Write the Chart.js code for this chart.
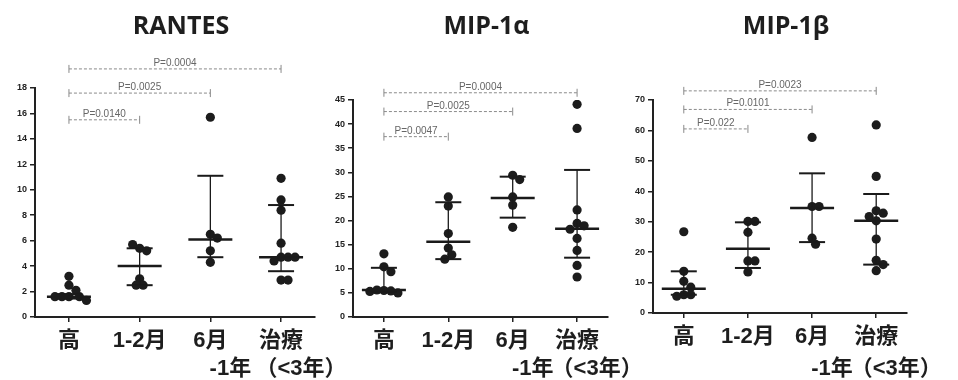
<!DOCTYPE html>
<html>
<head>
<meta charset="utf-8">
<script src="https://cdn.jsdelivr.net/npm/chart.js@4.4.1/dist/chart.umd.min.js"></script>
<style>
  html, body { margin: 0; padding: 0; background: #fff; }
  #wrap { position: relative; width: 958px; height: 380px; overflow: hidden; }
  #wrap canvas { position: absolute; left: 0; top: 0; }
</style>
</head>
<body>
<div id="wrap">
  <canvas id="c0" width="958" height="380"></canvas>
  <canvas id="c1" width="958" height="380"></canvas>
  <canvas id="c2" width="958" height="380"></canvas>
</div>
<script>
// categories (first row is the tick label, second row sits underneath)
const categories = ['高', '1-2月', '6月', '治療'];
const categoriesLine2 = ['', '', '-1年', '（<3年）'];

// RANTES
const rantesValues = [
  [3.2, 2.5, 2.1, 1.6, 1.6, 1.6, 1.6, 1.3],
  [5.4, 5.2, 5.7, 3.0, 2.5, 2.5],
  [15.7, 6.5, 6.2, 5.2, 4.3],
  [10.9, 9.2, 8.4, 5.8, 4.7, 4.7, 4.4, 4.7, 2.9, 2.9]
];
const rantesMedian = [1.6, 4.0, 6.1, 4.7];
const rantesQ1 = [1.45, 2.5, 4.7, 3.6];
const rantesQ3 = [1.8, 5.4, 11.1, 8.8];
const rantesTicks = [0, 2, 4, 6, 8, 10, 12, 14, 16, 18];
const rantesP = ['P=0.0140', 'P=0.0025', 'P=0.0004'];

// MIP-1α
const mip1aValues = [
  [13.1, 10.4, 9.4, 5.5, 5.4, 5.6, 5.0, 5.3],
  [24.9, 23.0, 17.3, 14.3, 12.9, 12.0],
  [29.4, 28.5, 24.9, 23.2, 18.6],
  [44.1, 39.1, 22.2, 19.4, 18.9, 18.2, 16.3, 13.8, 10.7, 8.3]
];
const mip1aMedian = [5.6, 15.6, 24.7, 18.3];
const mip1aQ1 = [5.2, 12.0, 20.6, 12.3];
const mip1aQ3 = [10.2, 23.8, 29.1, 30.5];
const mip1aTicks = [0, 5, 10, 15, 20, 25, 30, 35, 40, 45];
const mip1aP = ['P=0.0047', 'P=0.0025', 'P=0.0004'];

// MIP-1β
const mip1bValues = [
  [26.7, 13.7, 10.4, 8.5, 6.0, 6.0, 5.5],
  [30.1, 30.1, 26.5, 17.1, 17.1, 13.5],
  [57.7, 35.0, 35.0, 24.6, 22.6],
  [61.8, 44.9, 33.6, 32.8, 31.7, 30.3, 24.3, 17.3, 15.9, 13.9]
];
const mip1bMedian = [8.0, 21.1, 34.5, 30.3];
const mip1bQ1 = [6.0, 14.8, 23.3, 15.9];
const mip1bQ3 = [13.7, 29.8, 45.9, 39.1];
const mip1bTicks = [0, 10, 20, 30, 40, 50, 60, 70];
const mip1bP = ['P=0.022', 'P=0.0101', 'P=0.0023'];

const W = 958, H = 380;
const labelFont = '"Liberation Sans", "Noto Sans CJK JP", sans-serif';

const panels = [
  { id: 'c0', title: 'RANTES', values: rantesValues, median: rantesMedian, q1: rantesQ1, q3: rantesQ3,
    ticks: rantesTicks, pValues: rantesP, bracketLevels: [15.5, 17.6, 19.5],
    area: { left: 35, right: 315, top: 88, bottom: 317 } },
  { id: 'c1', title: 'MIP-1α', values: mip1aValues, median: mip1aMedian, q1: mip1aQ1, q3: mip1aQ3,
    ticks: mip1aTicks, pValues: mip1aP, bracketLevels: [37.4, 42.6, 46.5],
    area: { left: 353, right: 608, top: 100, bottom: 317 } },
  { id: 'c2', title: 'MIP-1β', values: mip1bValues, median: mip1bMedian, q1: mip1bQ1, q3: mip1bQ3,
    ticks: mip1bTicks, pValues: mip1bP, bracketLevels: [60.5, 66.9, 73.0],
    area: { left: 653, right: 907, top: 100, bottom: 313 } }
];

function seg(ctx, x0, y0, x1, y1) {
  ctx.beginPath();
  ctx.moveTo(x0, y0);
  ctx.lineTo(x1, y1);
  ctx.stroke();
}

// median + interquartile bars, p-value brackets, titles
function overlay(p) {
  return {
    id: 'overlay',
    afterDatasetsDraw(chart) {
      const { ctx, chartArea } = chart;
      const xs = chart.scales.x, ys = chart.scales.y;
      ctx.save();
      ctx.strokeStyle = '#1a1a1a';
      p.median.forEach((m, i) => {
        const cx = xs.getPixelForValue(i);
        const y1 = ys.getPixelForValue(p.q1[i]);
        const y3 = ys.getPixelForValue(p.q3[i]);
        const ym = ys.getPixelForValue(m);
        ctx.lineWidth = 1.3;
        seg(ctx, cx, y1, cx, y3);
        ctx.lineWidth = 2;
        seg(ctx, cx - 13, y1, cx + 13, y1);
        seg(ctx, cx - 13, y3, cx + 13, y3);
        ctx.lineWidth = 2.5;
        seg(ctx, cx - 22, ym, cx + 22, ym);
      });

      // brackets
      const x0 = xs.getPixelForValue(0);
      p.pValues.forEach((txt, k) => {
        const x1 = xs.getPixelForValue(k + 1);
        const by = ys.getPixelForValue(p.bracketLevels[k]);
        ctx.strokeStyle = '#8a8a8a';
        ctx.lineWidth = 1;
        ctx.setLineDash([3, 2]);
        seg(ctx, x0, by, x1, by);
        ctx.setLineDash([]);
        seg(ctx, x0, by - 4, x0, by + 4);
        seg(ctx, x1, by - 4, x1, by + 4);
        ctx.fillStyle = '#666';
        ctx.font = '10px "Liberation Sans", sans-serif';
        ctx.textAlign = 'center';
        ctx.textBaseline = 'alphabetic';
        ctx.fillText(txt, (x0 + x1) / 2, by - 3);
      });

      // title
      ctx.fillStyle = '#1e1e1e';
      ctx.font = 'bold 25px "Open Sans", sans-serif';
      ctx.textAlign = 'center';
      ctx.textBaseline = 'middle';
      ctx.fillText(p.title, (chartArea.left + chartArea.right) / 2 + 6, 27);

      // second row of category labels
      ctx.font = 'bold 22px ' + labelFont;
      categoriesLine2.forEach((t, i) => {
        if (t) ctx.fillText(t, xs.getPixelForValue(i) + 20, 369);
      });
      ctx.restore();
    }
  };
}

// spread points sideways so they don't sit on top of each other
function swarm(chart, groups) {
  const xs = chart.scales.x, ys = chart.scales.y;
  const minDist = 7;
  const pts = [];
  groups.forEach((vals, i) => {
    const cx = xs.getPixelForValue(i);
    const placed = [];
    vals.forEach(v => {
      const py = ys.getPixelForValue(v);
      let dx = 0;
      for (let k = 0; k < 30; k++) {
        const cand = k === 0 ? 0 : (k % 2 ? 1 : -1) * Math.ceil(k / 2) * 3.5;
        if (placed.every(q => Math.hypot(q.x - (cx + cand), q.y - py) >= minDist)) { dx = cand; break; }
      }
      placed.push({ x: cx + dx, y: py });
      pts.push({ x: xs.getValueForPixel(cx + dx), y: v });
    });
  });
  chart.data.datasets[0].data = pts;
  chart.update('none');
}

function buildChart(p) {
  const yW = 30, xH = 50;
  const chart = new Chart(document.getElementById(p.id), {
    type: 'scatter',
    data: {
      datasets: [{
        data: [],
        pointRadius: 4.6,
        pointHoverRadius: 4.6,
        backgroundColor: '#1c1c1c',
        borderWidth: 0
      }]
    },
    options: {
      responsive: false,
      animation: false,
      events: [],
      layout: {
        padding: {
          left: p.area.left - yW,
          right: W - p.area.right,
          top: p.area.top,
          bottom: H - p.area.bottom - xH
        }
      },
      plugins: { legend: { display: false }, tooltip: { enabled: false } },
      scales: {
        x: {
          type: 'linear',
          min: -0.48,
          max: 3.48,
          afterBuildTicks: s => { s.ticks = categories.map((c, i) => ({ value: i })); },
          afterFit: s => { s.height = xH; },
          ticks: {
            callback: v => categories[v],
            color: '#1e1e1e',
            padding: 6,
            maxRotation: 0,
            autoSkip: false,
            font: { family: labelFont, size: 22, weight: 'bold' }
          },
          grid: { drawOnChartArea: false, tickLength: 5, color: '#222', lineWidth: 1.5 },
          border: { color: '#222', width: 2 }
        },
        y: {
          min: p.ticks[0],
          max: p.ticks[p.ticks.length - 1],
          afterBuildTicks: s => { s.ticks = p.ticks.map(v => ({ value: v })); },
          afterFit: s => { s.width = yW; },
          ticks: {
            color: '#222',
            padding: 3,
            font: { family: '"Liberation Sans", sans-serif', size: 9, weight: 'bold' }
          },
          grid: { drawOnChartArea: false, tickLength: 5, color: '#222', lineWidth: 1.5 },
          border: { color: '#222', width: 2 }
        }
      }
    },
    plugins: [overlay(p)]
  });
  swarm(chart, p.values);
}

document.addEventListener('DOMContentLoaded', function () {
  panels.forEach(buildChart);
});
</script>
</body>
</html>
